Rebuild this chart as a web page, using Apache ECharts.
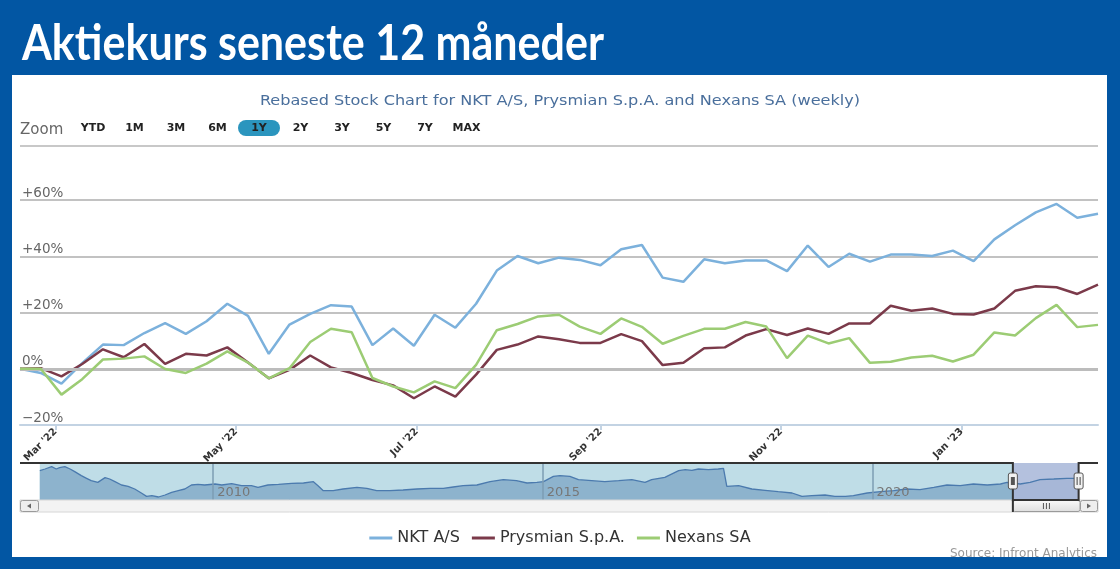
<!DOCTYPE html>
<html><head><meta charset="utf-8">
<script src="https://cdn.jsdelivr.net/npm/echarts@6/dist/echarts.min.js"></script>
<style>html,body{margin:0;padding:0;background:#fff}#c{width:1120px;height:569px}</style>
</head><body><div id="c"></div>
<script>
const titleText = 'Aktiekurs seneste 12 måneder';
const subtitleText = 'Rebased Stock Chart for NKT A/S, Prysmian S.p.A. and Nexans SA (weekly)';
const sourceText = 'Source: Infront Analytics';
const zoomLabel = 'Zoom';
const zoomButtons = ['YTD','1M','3M','6M','1Y','2Y','3Y','5Y','7Y','MAX'];
const activeButton = '1Y';
const seriesNames = ['NKT A/S','Prysmian S.p.A.','Nexans SA'];
const seriesColors = ['#7cb1dc','#7b3a4a','#9ccc74'];

const weekDates = ['2022-02-17','2022-02-24','2022-03-03','2022-03-10','2022-03-17','2022-03-24','2022-03-31',
 '2022-04-07','2022-04-14','2022-04-21','2022-04-28','2022-05-05','2022-05-12','2022-05-19','2022-05-26',
 '2022-06-02','2022-06-09','2022-06-16','2022-06-23','2022-06-30','2022-07-07','2022-07-14','2022-07-21','2022-07-28',
 '2022-08-04','2022-08-11','2022-08-18','2022-08-25','2022-09-01','2022-09-08','2022-09-15','2022-09-22','2022-09-29',
 '2022-10-06','2022-10-13','2022-10-20','2022-10-27','2022-11-03','2022-11-10','2022-11-17','2022-11-24',
 '2022-12-01','2022-12-08','2022-12-15','2022-12-22','2022-12-29','2023-01-05','2023-01-12','2023-01-19','2023-01-26',
 '2023-02-02','2023-02-09','2023-02-16'];
const nktValues = [0,-1.5,-5.3,2.0,8.6,8.4,12.7,16.2,12.4,16.9,23.1,18.8,5.3,15.7,19.5,22.6,22.1,8.4,14.3,8.2,
 19.2,14.6,23.1,34.9,40.1,37.5,39.5,38.7,36.8,42.5,44.0,32.4,30.9,38.9,37.5,38.5,38.5,34.7,43.8,36.2,
 40.9,38.1,40.6,40.6,40.1,42.0,38.3,46.0,51.0,55.6,58.6,53.7,55.1];
const prysmianValues = [0,0.2,-2.7,1.7,6.9,4.1,8.8,1.7,5.3,4.7,7.6,2.2,-3.4,-0.4,4.7,0.5,-1.5,-4.0,-5.9,-10.5,
 -6.3,-9.9,-2.1,6.7,8.6,11.5,10.5,9.2,9.2,12.3,9.8,1.3,2.1,7.3,7.6,11.8,14.1,12.0,14.3,12.4,
 16.1,16.1,22.4,20.6,21.4,19.5,19.3,21.4,27.7,29.3,29.0,26.6,29.9];
const nexansValues = [0,0,-9.2,-3.7,3.3,3.6,4.4,-0.1,-1.5,1.8,6.2,2.2,-3.4,0.2,9.5,14.2,13.0,-3.3,-6.3,-8.4,
 -4.5,-6.9,1.4,13.7,15.9,18.6,19.2,15.0,12.4,17.9,14.9,8.9,11.7,14.2,14.2,16.6,15.0,3.8,11.8,9.0,
 10.9,2.1,2.5,4.0,4.6,2.6,5.0,12.9,11.8,18.0,22.7,14.8,15.6];

const xTickDates = ['2022-03-01','2022-05-01','2022-07-01','2022-09-01','2022-11-01','2023-01-01'];
const xTickLabels = ["Mar '22","May '22","Jul '22","Sep '22","Nov '22","Jan '23"];
const yTickValues = [-20,0,20,40,60];
const yTickLabels = ['\u221220%','0%','+20%','+40%','+60%'];

// navigator (long history, relative level)
const navYears = [2007.37,2007.45,2007.55,2007.62,2007.67,2007.75,2007.83,2007.90,2008.00,2008.08,2008.15,2008.25,2008.36,2008.43,2008.51,2008.61,2008.71,2008.81,2008.91,2008.99,
 2009.07,2009.17,2009.27,2009.37,2009.47,2009.57,2009.67,2009.77,2009.87,2010.03,2010.13,2010.28,2010.43,2010.58,2010.68,2010.83,2010.99,2011.19,
 2011.37,2011.52,2011.59,2011.67,2011.82,2011.97,2012.18,2012.33,2012.48,2012.68,2012.88,2013.09,2013.29,2013.49,2013.64,2013.79,2014.00,2014.20,2014.40,2014.60,2014.76,2014.91,2015.01,2015.16,2015.26,2015.41,
 2015.54,2015.74,2015.94,2016.15,2016.35,2016.55,2016.65,2016.85,2017.06,2017.16,2017.26,2017.36,2017.51,2017.66,2017.74,2017.79,2017.97,2018.17,2018.37,2018.57,2018.78,2018.93,2019.08,2019.28,2019.43,2019.59,
 2019.71,2019.92,2020.12,2020.32,2020.52,2020.72,2020.93,2021.13,2021.33,2021.53,2021.74,2021.94,2022.04,2022.24,2022.39,2022.54,2022.75,2022.95,2023.05,2023.13];
const navValues = [88,93,100,93,97,100,93,85,73,65,58,53,67,63,55,45,41,33,21,11,
 13,9,15,23,28,33,45,47,45,48,45,49,43,43,38,45,47,50,
 51,55,43,28,28,33,38,35,28,28,30,33,35,35,39,43,45,55,61,58,51,53,55,71,73,71,
 61,58,55,58,61,53,61,68,88,91,89,93,91,93,95,41,43,33,29,25,21,11,13,15,11,11,
 13,21,25,28,33,31,38,45,43,48,45,48,53,48,53,61,63,65,65,65];
const navTickYears = [2010,2015,2020];
const navTickLabels = ['2010','2015','2020'];
const navRange = [2007.07,2023.42];

function toTs(s){const p=s.split('-').map(Number);return new Date(p[0],p[1]-1,p[2]).getTime();}
function toYear(s){const p=s.split('-').map(Number);const t=new Date(p[0],p[1]-1,p[2]).getTime();const t0=new Date(p[0],0,1).getTime();return p[0]+(t-t0)/(365*864e5);}
const xTickTs = xTickDates.map(toTs);
function nearestIdx(arr,v){let b=0;for(let i=1;i<arr.length;i++){if(Math.abs(arr[i]-v)<Math.abs(arr[b]-v))b=i;}return b;}

const selStart = toYear(weekDates[0]);
const selEnd = toYear(weekDates[weekDates.length-1]);
const navFirst = navYears[0], navLast = navYears[navYears.length-1];
const fSel = (selStart-navFirst)/(navLast-navFirst);

const valueSets = [nktValues, prysmianValues, nexansValues];
const F = 'DejaVu Sans';

const chart = echarts.init(document.getElementById('c'), null, {renderer:'canvas'});
const option = {
  animation:false,
  backgroundColor:'#ffffff',
  grid:[
    {left:20,right:22,top:200,height:225,outerBoundsMode:'none'},
    {left:20,right:22,top:463,height:37,outerBoundsMode:'none'}
  ],
  legend:{data:seriesNames,top:525,left:'center',icon:'rect',itemWidth:23,itemHeight:3,itemGap:12,
    textStyle:{fontSize:16,color:'#333',fontFamily:F}},
  xAxis:[
    {type:'value',gridIndex:0,z:3,min:toTs(weekDates[0]),max:toTs(weekDates[weekDates.length-1]),
     axisLine:{show:true,onZero:false,lineStyle:{color:'#c3d3e3',width:2}},
     axisTick:{show:true,customValues:xTickTs,length:5,lineStyle:{color:'#c3d3e3',width:2}},
     axisLabel:{customValues:xTickTs,rotate:45,margin:5,color:'#333',fontSize:10,fontWeight:'bold',fontFamily:F,
       formatter:v=>xTickLabels[nearestIdx(xTickTs,v)]},
     splitLine:{show:false}},
    {type:'value',gridIndex:1,z:10,min:navRange[0],max:navRange[1],
     axisLine:{show:false,onZero:false},axisTick:{show:false},splitLine:{show:false},
     axisLabel:{customValues:navTickYears,inside:true,margin:1,align:'left',padding:[0,0,0,4],color:'#777',fontSize:13,fontFamily:F,
       formatter:v=>navTickLabels[nearestIdx(navTickYears,v)]}}
  ],
  yAxis:[
    {type:'value',gridIndex:0,min:-20,max:60,interval:20,
     axisLine:{show:false},axisTick:{show:false},
     axisLabel:{inside:true,margin:2,verticalAlign:'bottom',color:'#666',fontSize:13.5,fontFamily:F,
       formatter:v=>yTickLabels[nearestIdx(yTickValues,v)]},
     splitLine:{lineStyle:{color:'#c2c2c2',width:2}}},
    {type:'value',gridIndex:1,min:0,max:111,show:false,splitLine:{show:false}}
  ],
  series:[
    {type:'line',name:'_zero',data:[],z:1,silent:true,
     markLine:{silent:true,symbol:['none','none'],label:{show:false},data:[{yAxis:0}],
       lineStyle:{color:'#bcbcbc',width:3,type:'solid'}}},
    ...seriesNames.map((n,k)=>({type:'line',name:n,xAxisIndex:0,yAxisIndex:0,
      data:weekDates.map((d,i)=>[toTs(d),valueSets[k][i]]),
      showSymbol:false,symbol:'none',color:seriesColors[k],
      lineStyle:{color:seriesColors[k],width:2.5},z:3+k})),
    {type:'line',name:'_navbg',xAxisIndex:1,yAxisIndex:1,data:[],z:1,silent:true,
     markArea:{silent:true,itemStyle:{color:'#bfdde7'},data:[
       [{xAxis:navFirst,itemStyle:{color:'#bfdde7'}},{xAxis:selStart}],
       [{xAxis:selStart,itemStyle:{color:'#b4c1de'}},{xAxis:selEnd}]
     ]}},
    {type:'line',name:'_nav',xAxisIndex:1,yAxisIndex:1,z:2,silent:true,
     data:navYears.map((y,i)=>[y,navValues[i]]),showSymbol:false,symbol:'none',
     lineStyle:{color:'#4b7aae',width:1.3},
     areaStyle:{opacity:1,color:new echarts.graphic.LinearGradient(0,0,1,0,[
       {offset:0,color:'#8db3cd'},{offset:fSel,color:'#8db3cd'},{offset:fSel,color:'#a7b7d7'},{offset:1,color:'#a7b7d7'}])},
     markLine:{silent:true,symbol:['none','none'],label:{show:false},
       data:navTickYears.map(v=>({xAxis:v})),lineStyle:{color:'#7c9cb3',width:1.5,type:'solid'}}}
  ]
};
chart.setOption(option);

const xL = chart.convertToPixel({xAxisIndex:1}, selStart);
const xR = chart.convertToPixel({xAxisIndex:1}, selEnd);
const blue = '#0256a3';
const g = [];
g.push({type:'rect',shape:{x:0,y:0,width:1120,height:75},style:{fill:blue},z:100});
g.push({type:'rect',shape:{x:0,y:0,width:12,height:569},style:{fill:blue},z:100});
g.push({type:'rect',shape:{x:1107,y:0,width:13,height:569},style:{fill:blue},z:100});
g.push({type:'rect',shape:{x:0,y:557,width:1120,height:12},style:{fill:blue},z:100});
g.push({type:'text',x:22,y:44,scaleX:0.86,
  style:{text:titleText,fill:'#fff',font:'bold 50px Lato',textAlign:'left',textVerticalAlign:'middle'},z:101});
g.push({type:'text',x:560,y:101,scaleX:1.15,style:{text:subtitleText,fill:'#4a6f9c',font:'14px "DejaVu Sans"',textAlign:'center',textVerticalAlign:'middle'},z:10});
g.push({type:'text',x:20,y:130,style:{text:zoomLabel,fill:'#666',font:'15px "DejaVu Sans"',textAlign:'left',textVerticalAlign:'middle'},z:10});
zoomButtons.forEach((b,i)=>{
  const cx = 93 + 41.5*i;
  if(b===activeButton){g.push({type:'rect',shape:{x:cx-21,y:120,width:42,height:16,r:8},style:{fill:'#2b95be'},z:10});}
  g.push({type:'text',x:cx,y:128,style:{text:b,fill:'#222',font:'bold 11px "DejaVu Sans"',textAlign:'center',textVerticalAlign:'middle'},z:11});
});
g.push({type:'line',shape:{x1:20,y1:146,x2:1098,y2:146},style:{stroke:'#c8c8c8',lineWidth:2},z:10});
g.push({type:'rect',shape:{x:20,y:500,width:1078,height:12},style:{fill:'#f3f3f3',stroke:'#d6d6d6',lineWidth:1},z:10});
g.push({type:'rect',shape:{x:20.5,y:500.5,width:18,height:11,r:2},style:{fill:'#eeeeee',stroke:'#9a9a9a',lineWidth:1},z:11});
g.push({type:'polygon',shape:{points:[[27,506],[31,503.5],[31,508.5]]},style:{fill:'#666'},z:12});
g.push({type:'rect',shape:{x:xL,y:500.5,width:1080-xL,height:11,r:2},style:{fill:new echarts.graphic.LinearGradient(0,0,0,1,[{offset:0,color:'#fafafa'},{offset:1,color:'#dedede'}]),stroke:'#9a9a9a',lineWidth:1},z:11});
const gx=(xL+1080)/2;
[-3,0,3].forEach(d=>g.push({type:'line',shape:{x1:gx+d,y1:503,x2:gx+d,y2:509},style:{stroke:'#555',lineWidth:1},z:12}));
g.push({type:'rect',shape:{x:1080.5,y:500.5,width:17,height:11,r:2},style:{fill:'#eeeeee',stroke:'#9a9a9a',lineWidth:1},z:11});
g.push({type:'polygon',shape:{points:[[1091,506],[1087,503.5],[1087,508.5]]},style:{fill:'#666'},z:12});
g.push({type:'polyline',shape:{points:[[20,463],[xL,463],[xL,500],[xR,500],[xR,463],[1098,463]]},style:{stroke:'#333',lineWidth:2,fill:null},z:20});
g.push({type:'line',shape:{x1:xL,y1:500,x2:xL,y2:512},style:{stroke:'#333',lineWidth:2},z:20});
[xL,xR].forEach((x,k)=>{
  g.push({type:'rect',shape:{x:x-4.5,y:473,width:9,height:16,r:2},style:{fill:'#f2f2f2',stroke:'#555',lineWidth:1},z:21});
  if(k===0){g.push({type:'rect',shape:{x:x-2,y:477,width:4,height:8},style:{fill:'#555'},z:22});}
  else{[-1.5,1.5].forEach(d=>g.push({type:'line',shape:{x1:x+d,y1:477,x2:x+d,y2:485},style:{stroke:'#444',lineWidth:1},z:22}));}
});
g.push({type:'text',x:1097,y:553.5,style:{text:sourceText,fill:'#999',font:'12px "DejaVu Sans"',textAlign:'right',textVerticalAlign:'middle'},z:50});
chart.setOption({graphic:{elements:g}});
</script></body></html>
